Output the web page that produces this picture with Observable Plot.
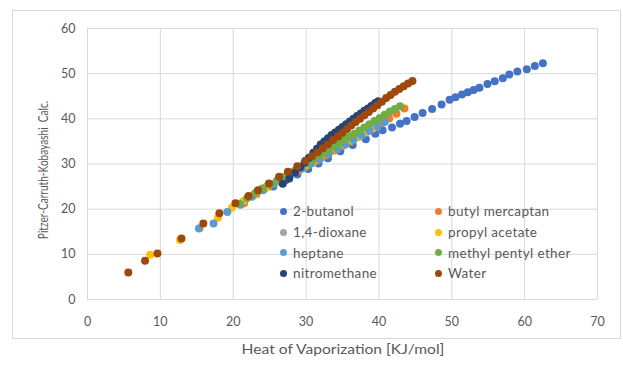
<!DOCTYPE html>
<html><head><meta charset="utf-8">
<script src="https://cdn.jsdelivr.net/npm/d3@7"></script>
<script src="https://cdn.jsdelivr.net/npm/@observablehq/plot@0.6"></script>
<style>
body{margin:0;background:#fff;}
#chart{position:relative;width:623px;height:371px;font-family:Lato,sans-serif;color:#595959;overflow:hidden;}
#frame{position:absolute;left:12px;top:10px;width:607px;height:327px;border:1px solid #d9d9d9;}
#chart svg{position:absolute;left:0;top:0;}
.xtitle{position:absolute;left:343px;top:349px;transform:translate(-50%,-50%) scaleX(1.2);font-size:13px;white-space:pre;}
.ytitle{position:absolute;left:42px;top:170px;transform:translate(-50%,-50%) rotate(-90deg) scaleX(0.72);font-size:14px;white-space:pre;}
#legend{position:absolute;left:280px;top:201px;display:grid;grid-template-columns:155px auto;grid-auto-rows:20.7px;font-size:13.5px;letter-spacing:0.35px;}
#legend div{display:flex;align-items:center;white-space:nowrap;}
#legend span.m{display:inline-block;width:7px;height:7px;border-radius:50%;margin-right:6px;}
</style></head><body><div id="chart"><div id="frame"></div></div>
<script>
const seriesNames = ["2-butanol","butyl mercaptan","1,4-dioxane","propyl acetate","heptane","methyl pentyl ether","nitromethane","Water"];
const seriesColors = ["#4472C4","#ED7D31","#A5A5A5","#FFC000","#5B9BD5","#70AD47","#264478","#9E480E"];
const xTicks = [0,10,20,30,40,50,60,70];
const yTicks = [0,10,20,30,40,50,60];
const xTitle = "Heat of Vaporization [KJ/mol]";
const yTitle = "Pitzer-Carruth-Kobayashi  Calc.";

const butanolX = [25.5,27.2,28.8,30.3,31.7,33.0,34.7,36.4,38.2,39.5,40.5,41.8,42.9,43.8,44.9,46.0,47.3,48.6,49.7,50.5,51.4,52.2,53.0,53.8,54.9,55.9,57.0,57.9,59.0,60.3,61.4,62.5];
const butanolY = [25.0,26.4,27.7,28.9,30.1,31.3,32.8,34.2,35.5,36.7,37.5,38.1,38.9,39.5,40.4,41.3,42.2,43.2,44.2,44.8,45.4,45.9,46.4,46.9,47.7,48.3,49.0,49.8,50.5,51.0,51.7,52.3];
const mercaptanX = [21.5,23.2,24.8,26.3,27.7,29.0,30.3,31.5,32.7,33.9,35.0,36.1,37.2,38.3,39.4,40.4,41.4,42.4,43.5];
const mercaptanY = [21.3,23.3,24.9,26.2,27.4,28.5,29.7,30.8,31.9,33.0,34.0,35.0,36.0,37.1,38.1,39.1,40.1,41.1,42.3];
const dioxaneX = [22.5,24.5,26.4,28.2,29.9,31.5,33.0,34.5,35.9,37.3,38.6];
const dioxaneY = [22.8,24.9,26.6,28.3,29.9,31.4,32.9,34.3,35.6,36.9,38.1];
const acetateX = [8.6,12.7,15.4,17.9,19.8,21.4,23.0,24.5,25.9,27.2,28.5,29.7,30.9,32.0,33.1,34.2,35.2,36.2,37.2,38.2,39.1];
const acetateY = [9.9,13.2,15.8,18.1,20.3,21.8,23.3,24.7,26.0,27.1,28.2,29.2,30.3,31.3,32.3,33.3,34.3,35.2,36.1,37.0,37.8];
const heptaneX = [15.3,17.3,19.2,21.0,22.6,24.1,25.5,26.9,28.2,29.5,30.7,31.9,33.1,34.3,35.4,36.5,37.6,38.7,39.8,40.8];
const heptaneY = [15.7,16.8,19.4,21.0,22.8,24.2,25.5,26.7,27.9,29.0,30.1,31.1,32.2,33.3,34.3,35.3,36.3,37.3,38.3,39.3];
const etherX = [20.8,21.9,23.0,24.0,25.0,26.0,26.9,27.8,28.6,29.4,30.2,31.0,31.7,32.4,33.1,33.8,34.5,35.2,35.9,36.6,37.3,38.0,38.7,39.4,40.1,40.8,41.5,42.2,42.9];
const etherY = [21.2,22.4,23.5,24.6,25.4,26.3,27.1,27.9,28.7,29.5,30.3,31.1,31.8,32.5,33.2,33.9,34.6,35.3,36.0,36.7,37.4,38.1,38.8,39.5,40.2,40.9,41.6,42.2,42.8];
const nitroX = [26.8,27.7,28.5,29.2,29.8,30.4,31.0,31.5,32.0,32.5,33.0,33.5,34.0,34.5,35.0,35.5,36.0,36.5,37.0,37.5,38.0,38.5,39.0,39.5,39.9];
const nitroY = [25.6,26.8,28.1,29.3,30.3,31.4,32.5,33.4,34.3,35.0,35.7,36.4,37.0,37.6,38.2,38.8,39.4,40.0,40.6,41.2,41.8,42.3,42.9,43.5,43.9];
const waterX = [5.6,7.9,9.6,12.9,15.9,18.1,20.3,22.1,23.4,24.9,26.3,27.5,28.8,29.9,30.8,31.6,32.3,33.0,33.7,34.4,35.0,35.6,36.2,36.8,37.4,38.0,38.6,39.2,39.8,40.4,41.0,41.6,42.2,42.8,43.4,44.0,44.6];
const waterY = [6.0,8.6,10.2,13.5,16.8,19.1,21.3,22.9,24.2,25.7,27.2,28.3,29.5,30.7,31.7,32.6,33.5,34.4,35.3,36.1,36.9,37.7,38.5,39.3,40.0,40.8,41.5,42.3,43.0,43.8,44.6,45.3,46.0,46.6,47.2,47.8,48.4];

const seriesX = [butanolX,mercaptanX,dioxaneX,acetateX,heptaneX,etherX,nitroX,waterX];
const seriesY = [butanolY,mercaptanY,dioxaneY,acetateY,heptaneY,etherY,nitroY,waterY];
const rows = [];
seriesNames.forEach((name,i)=>{
  seriesX[i].forEach((x,j)=>rows.push({series:name,x,y:seriesY[i][j]}));
});

const chart = document.getElementById("chart");
const plot = Plot.plot({
  width:623, height:371,
  marginLeft:87, marginRight:26, marginTop:28, marginBottom:72,
  style:{fontFamily:"Lato, sans-serif", fontSize:"12.5px", color:"#595959", background:"transparent"},
  x:{domain:[0,70], label:null},
  y:{domain:[0,60], label:null},
  color:{domain:seriesNames, range:seriesColors},
  marks:[
    Plot.gridX(xTicks,{stroke:"#d9d9d9", strokeOpacity:1}),
    Plot.gridY(yTicks,{stroke:"#d9d9d9", strokeOpacity:1}),
    Plot.axisX(xTicks,{tickSize:0, tickPadding:18, label:null}),
    Plot.axisY(yTicks,{tickSize:0, tickPadding:12, label:null}),
    Plot.dot(rows,{x:"x", y:"y", fill:"series", r:4})
  ]
});
chart.appendChild(plot);

const xt = document.createElement("div"); xt.className="xtitle"; xt.textContent=xTitle; chart.appendChild(xt);
const yt = document.createElement("div"); yt.className="ytitle"; yt.textContent=yTitle; chart.appendChild(yt);

const legend = document.createElement("div"); legend.id="legend";
seriesNames.forEach((name,i)=>{
  const item=document.createElement("div");
  const m=document.createElement("span"); m.className="m"; m.style.background=seriesColors[i];
  item.appendChild(m); item.appendChild(document.createTextNode(name));
  legend.appendChild(item);
});
chart.appendChild(legend);
</script>
</body></html>
